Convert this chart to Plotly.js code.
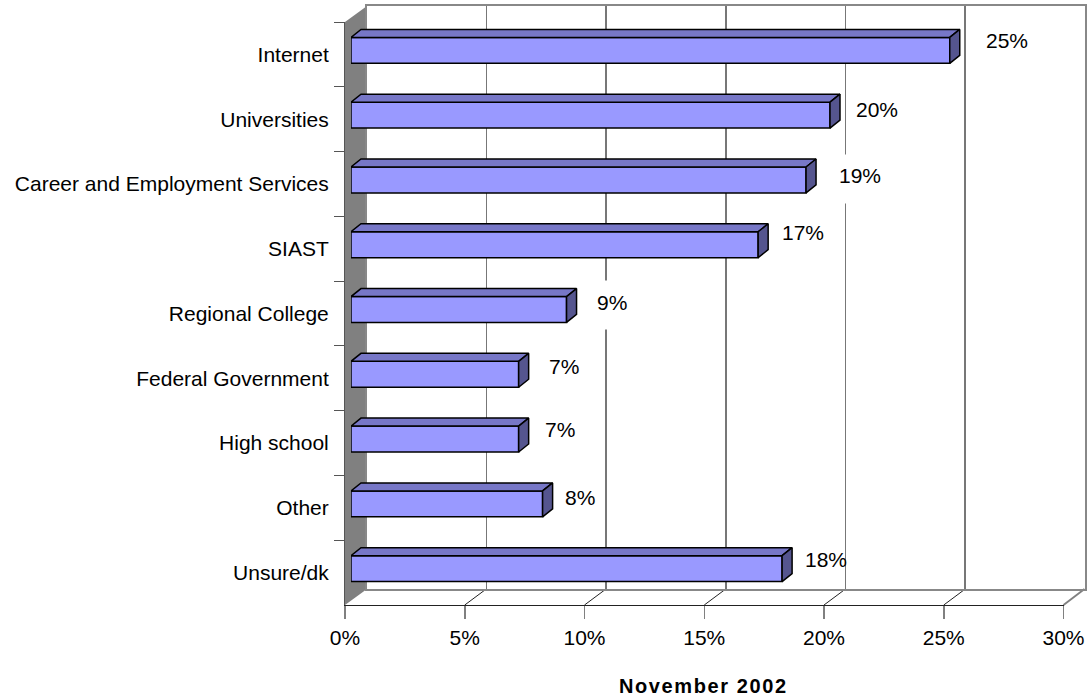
<!DOCTYPE html>
<html><head><meta charset="utf-8">
<script src="https://cdn.plot.ly/plotly-3.0.1.min.js"></script>
<style>html,body{margin:0;padding:0;background:#fff}#c{width:1089px;height:698px}</style>
</head><body><div id="c"></div>
<script>
var categories = ['Internet','Universities','Career and Employment Services','SIAST','Regional College','Federal Government','High school','Other','Unsure/dk'];
var values = [25,20,19,17,9,7,7,8,18];
var labelNudgeX = [57,47,54,45,45,45,41,37,44];
var labelNudgeY = [10,6,4,12,7,8,10,6,9];
var maskedLabels = [2,4];

var W=1089,H=698;
var front={l:345,r:1063.5,t:22,b:605};
var depth={x:22,y:-16};
var barOff={x:6,y:-4};
var faceD={x:10,y:-8};
var FONT='Liberation Sans, Arial, sans-serif';
function dx(a,b){return [a/W,b/W];}
function dy(t,b){return [1-b/H,1-t/H];}
var pxPerX=(front.r-front.l)/30, pxPerBand=(front.b-front.t)/categories.length;
var fx=faceD.x/pxPerX, fy=faceD.y/pxPerBand, half=0.2;
var idx=categories.map(function(_,i){return i;});
var topX=[],topY=[],sideX=[],sideY=[];
values.forEach(function(v,i){
  var t=i-half,b=i+half;
  topX.push(0,fx,v+fx,v,0,null); topY.push(t,t+fy,t+fy,t,t,null);
  sideX.push(v,v+fx,v+fx,v,v,null); sideY.push(t,t+fy,b+fy,b,t,null);
});
var data=[
 {type:'scatter',x:[0],y:[0],xaxis:'x2',yaxis:'y2',mode:'markers',marker:{opacity:0},hoverinfo:'skip',showlegend:false},
 {type:'scatter',x:values,y:categories,xaxis:'x',yaxis:'y',mode:'markers',marker:{opacity:0},hoverinfo:'skip',showlegend:false},
 {type:'bar',orientation:'h',x:values,y:idx,xaxis:'x3',yaxis:'y3',width:0.4,
  marker:{color:'#9999FF',line:{color:'#000',width:1.5}},text:categories,textposition:'none',showlegend:false},
 {type:'scatter',x:topX,y:topY,xaxis:'x3',yaxis:'y3',mode:'lines',fill:'toself',fillcolor:'#7777C7',line:{color:'#000',width:1.5},hoverinfo:'skip',showlegend:false},
 {type:'scatter',x:sideX,y:sideY,xaxis:'x3',yaxis:'y3',mode:'lines',fill:'toself',fillcolor:'#55558F',line:{color:'#000',width:1.5},hoverinfo:'skip',showlegend:false}
];
var annotations=[];
maskedLabels.forEach(function(i){
  annotations.push({x:values[i],y:i,xref:'x3',yref:'y3',text:' ',showarrow:false,bgcolor:'#fff',width:44,height:46,
    xshift:labelNudgeX[i],yshift:labelNudgeY[i]-3,font:{size:10}});
});
values.forEach(function(v,i){
  annotations.push({x:v,y:i,xref:'x3',yref:'y3',text:v+'%',showarrow:false,xshift:labelNudgeX[i],yshift:labelNudgeY[i],
    font:{family:FONT,size:21,color:'#000'}});
});
annotations.push({xref:'paper',yref:'paper',x:703.5/W,y:1-686/H,yanchor:'middle',text:'<b><span style="letter-spacing:1.6px">November 2002</span></b>',showarrow:false,font:{family:FONT,size:20,color:'#000'}});
var shapes=[];
function P(x,y){return {x:x/W,y:1-y/H};}
function line(x0,y0,x1,y1,c,w){var a=P(x0,y0),b=P(x1,y1);
  shapes.push({type:'line',xref:'paper',yref:'paper',x0:a.x,y0:a.y,x1:b.x,y1:b.y,line:{color:c,width:w},layer:'below'});}
var a=P(front.l,front.t),b=P(front.l+depth.x,front.t+depth.y),c=P(front.l+depth.x,front.b+depth.y),d=P(front.l,front.b);
shapes.push({type:'path',xref:'paper',yref:'paper',path:'M'+a.x+','+a.y+'L'+b.x+','+b.y+'L'+c.x+','+c.y+'L'+d.x+','+d.y+'Z',fillcolor:'#808080',line:{width:0},layer:'below'});
[5,10,15,20,25].forEach(function(t){var x=front.l+t*pxPerX;line(x,front.b,x+depth.x-0.5,front.b+depth.y,'#222',1);});
line(front.r,front.b,front.r+depth.x-1,front.b+depth.y,'#808080',2);
var layout={width:W,height:H,margin:{l:0,r:0,t:0,b:0},paper_bgcolor:'#fff',plot_bgcolor:'rgba(0,0,0,0)',showlegend:false,
 xaxis:{domain:dx(front.l,front.r),range:[0,30],dtick:5,tick0:0,ticksuffix:'%',ticks:'outside',ticklen:13,tickcolor:'#808080',tickwidth:1.5,
   showgrid:false,zeroline:false,showline:true,linecolor:'#222',linewidth:1,anchor:'y',tickfont:{family:FONT,size:21,color:'#000'},ticklabelstandoff:1},
 yaxis:{domain:dy(front.t,front.b),type:'category',categoryorder:'array',categoryarray:categories,range:[8.5,-0.5],tickson:'boundaries',
   ticks:'outside',ticklen:10,tickcolor:'#555',tickwidth:1,showgrid:false,zeroline:false,showline:true,linecolor:'#555',linewidth:1,anchor:'x',
   tickfont:{family:FONT,size:21,color:'#000'},ticklabelstandoff:11},
 xaxis2:{domain:dx(front.l+depth.x,front.r+depth.x-1),range:[0,30],dtick:5,showgrid:true,gridcolor:'#777',gridwidth:1.5,zeroline:false,showticklabels:false,ticks:'',
   showline:true,mirror:true,linecolor:'#888',linewidth:2,anchor:'y2'},
 yaxis2:{domain:dy(front.t+depth.y,front.b+depth.y),range:[0,1],showgrid:false,zeroline:false,showticklabels:false,ticks:'',
   showline:true,mirror:true,linecolor:'#888',linewidth:2,anchor:'x2'},
 xaxis3:{domain:dx(front.l+barOff.x,front.r+barOff.x),range:[0,30],visible:false,anchor:'y3'},
 yaxis3:{domain:dy(front.t+barOff.y,front.b+barOff.y),range:[8.5,-0.5],visible:false,anchor:'x3'},
 annotations:annotations,shapes:shapes};
Plotly.newPlot('c',data,layout,{displayModeBar:false,staticPlot:true});
</script></body></html>
